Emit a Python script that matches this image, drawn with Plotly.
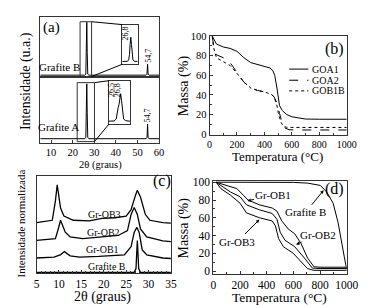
import plotly.graph_objects as go

W, H = 368, 305
FONT = "Liberation Serif"

# ---------------- (a) XRD of graphites ----------------
a_x = [5, 25.6, 26.1, 26.35, 26.55, 26.75, 27.0, 27.5, 54.0, 54.45, 54.7, 54.95, 55.4, 60]
a_grafiteB = [2.3, 2.3, 4, 40, 91, 40, 4, 2.3, 2.3, 4, 20.6, 4, 2.3, 2.3]
a_grafiteA = [5.9, 5.9, 8, 45, 89, 45, 8, 5.9, 5.9, 8, 27.8, 8, 5.9, 5.9]
a_ticks = [10, 20, 30, 40, 50, 60]

insB_x = [25.8, 26.4, 26.55, 26.65, 26.72, 26.8, 26.88, 26.95, 27.05, 27.2, 27.6]
insB_y = [7, 7.5, 11, 25, 50, 68, 50, 25, 11, 7.5, 7]
insA_x = [25.7, 26.2, 26.4, 26.5, 26.58, 26.66, 26.74, 26.82, 26.9, 27.0, 27.1, 27.3, 27.7]
insA_y = [7, 7.5, 12, 30, 38, 45, 60, 70, 55, 25, 12, 8, 7]

# ---------------- (b) TGA of GO ----------------
goa1_T = [20, 50, 100, 150, 200, 250, 300, 350, 400, 440, 460, 475, 490, 500, 510, 530, 560, 600, 650, 700, 800, 1000]
goa1_m = [100, 92, 89, 87.5, 84.5, 78, 73, 71, 69.5, 67.5, 65, 60, 48, 37, 29, 24, 20, 17.5, 16, 15.2, 15, 15]
goa2_T = [20, 30, 50, 100, 150, 200, 250, 300, 350, 400, 450, 470, 490, 510, 530, 550, 580, 620, 1000]
goa2_m = [100, 90, 81, 78, 73, 63, 53, 47, 44.5, 43, 40.5, 38, 32, 21, 11, 6, 4.3, 4, 4]
gob1b_T = [20, 30, 50, 100, 150, 200, 250, 300, 350, 400, 450, 470, 490, 500, 520, 540, 560, 600, 1000]
gob1b_m = [100, 88, 78, 74, 70, 62, 53, 47, 44.5, 43, 40.5, 38, 30, 22, 12, 7.5, 6.8, 6.6, 6.6]

# ---------------- (c) normalized XRD ----------------
c_ob3_x = [5, 8.5, 9.2, 9.6, 10.35, 11.1, 13.2, 16.8, 19.6, 22.5, 25.0, 26.1, 27.1, 27.5, 28.2, 29.3, 30.3, 33.2, 35]
c_ob3_y = [52.6, 55, 75, 91.6, 67.6, 59.3, 55, 54.3, 57, 57.6, 59.3, 66, 81, 86, 79, 60.9, 55, 52.6, 52]
c_ob2_x = [5, 9.2, 9.9, 10.35, 11.4, 12.5, 15.3, 18.9, 23.2, 25.3, 26.1, 26.8, 27.5, 28.2, 29.6, 33.2, 35]
c_ob2_y = [34.3, 36, 47, 55, 42.7, 37.7, 36, 37.7, 39.3, 44.3, 61, 68.3, 61, 46, 37.7, 33.6, 33]
c_ob1_x = [5, 8.9, 10.4, 11.2, 12.5, 14.6, 18.9, 24.6, 26.1, 26.8, 27.4, 27.9, 28.6, 29.6, 33.2, 35]
c_ob1_y = [16, 17, 19.5, 22.6, 18.3, 17, 17.6, 19.3, 27.6, 42.6, 47.6, 42.6, 24.3, 19.3, 16, 15.5]
c_grB_x = [5, 26.8, 27.2, 27.4, 27.5, 27.6, 27.8, 28.2, 35]
c_grB_y = [1, 1.2, 5, 25, 34, 25, 5, 1.2, 1]
c_ticks = [5, 10, 15, 20, 25, 30, 35]

# ---------------- (d) TGA of Gr-OB ----------------
d_grB_T = [20, 300, 600, 706, 760, 802, 850, 898, 935, 959, 983, 1000]
d_grB_m = [100, 100, 99.8, 99, 98, 96.4, 89, 76.4, 54.7, 33, 14.9, 2]
d_ob1_T = [20, 104, 176, 224, 260, 345, 441, 477, 513, 561, 610, 657, 706, 754, 800, 1000]
d_ob1_m = [100, 96.4, 92.8, 85.5, 80, 74.6, 71, 67.4, 56.5, 47.5, 42, 31.2, 14.9, 5, 4.5, 4.5]
d_ob2_T = [20, 56, 128, 200, 248, 345, 441, 477, 501, 537, 610, 682, 742, 800, 1000]
d_ob2_m = [100, 96.4, 89, 83.7, 74.6, 69, 64.9, 58.3, 43.8, 34.8, 27.5, 14.9, 3.5, 3, 3]
d_ob3_T = [20, 56, 128, 200, 248, 345, 441, 465, 489, 525, 598, 657, 706, 754, 1000]
d_ob3_m = [100, 92.8, 85.5, 76.4, 65.5, 60.1, 56.5, 51, 36.6, 27.5, 20.3, 11.2, 2.9, 1, 1]
tga_ticks = [0, 200, 400, 600, 800, 1000]
mass_ticks = [0, 20, 40, 60, 80, 100]


def PX(x):
    return x / W


def PY(y):
    return 1 - y / H


def dom_x(l, r):
    return [PX(l), PX(r)]


def dom_y(t, b):
    return [PY(b), PY(t)]


fig = go.Figure()


def add(x, y, xa, ya, dash="solid", name=None, width=1):
    fig.add_trace(go.Scatter(x=x, y=y, mode="lines", xaxis=xa, yaxis=ya,
                             line=dict(color="black", width=width, dash=dash),
                             name=name, showlegend=False, hoverinfo="skip"))


add(a_x, a_grafiteA, "x", "y")
add(a_x, a_grafiteB, "x2", "y2")
add(insB_x, insB_y, "x3", "y3")
add(insA_x, insA_y, "x4", "y4")
add(goa1_T, goa1_m, "x5", "y5", "solid", "GOA1")
add(goa2_T, goa2_m, "x5", "y5", "dash", "GOA2")
add(gob1b_T, gob1b_m, "x5", "y5", "dot", "GOB1B")
add(c_ob3_x, c_ob3_y, "x6", "y6", width=1.3)
add(c_ob2_x, c_ob2_y, "x6", "y6", width=1.3)
add(c_ob1_x, c_ob1_y, "x6", "y6", width=1.3)
add(c_grB_x, c_grB_y, "x6", "y6", width=1.3)
add(d_grB_T, d_grB_m, "x7", "y7")
add(d_ob1_T, d_ob1_m, "x7", "y7")
add(d_ob2_T, d_ob2_m, "x7", "y7")
add(d_ob3_T, d_ob3_m, "x7", "y7")

AX = dict(showline=True, linecolor="#333", linewidth=1, mirror=True, showgrid=False,
          zeroline=False, ticks="inside", ticklen=3, tickcolor="#333", ticklabelstandoff=0,
          tickfont=dict(family=FONT, size=11, color="black"))
NOAX = dict(showline=True, linecolor="#333", linewidth=1, mirror=True, showgrid=False,
            zeroline=False, ticks="", showticklabels=False)

# geometry (pixels)
A_L, A_R, A_T, A_M, A_B = 30.5, 154.3, 4, 65.7, 134
B_L, B_R, B_T, B_B = 207, 350, 23.3, 126
C_L, C_R, C_T, C_B = 26.7, 166.7, 168.3, 269.3
D_L, D_R, D_T, D_B = 211, 350, 173.3, 270

fig.update_layout(
    width=W, height=H, margin=dict(l=0, r=0, t=0, b=0),
    paper_bgcolor="white", plot_bgcolor="white", showlegend=False,
    font=dict(family=FONT, color="black"),
    xaxis=dict(AX, domain=dom_x(A_L, A_R), range=[5, 60], tickvals=a_ticks, anchor="y",
               tickfont=dict(family=FONT, size=10.5, color="black")),
    yaxis=dict(NOAX, domain=dom_y(A_M, A_B), range=[0, 100], anchor="x"),
    xaxis2=dict(NOAX, domain=dom_x(A_L, A_R), range=[5, 60], anchor="y2", matches="x"),
    yaxis2=dict(NOAX, domain=dom_y(A_T, A_M), range=[0, 100], anchor="x2"),
    xaxis3=dict(NOAX, domain=dom_x(116, 132), range=[25.8, 27.6], anchor="y3"),
    yaxis3=dict(NOAX, domain=dom_y(12, 53), range=[0, 100], anchor="x3"),
    xaxis4=dict(NOAX, domain=dom_x(102, 124), range=[25.7, 27.7], anchor="y4"),
    yaxis4=dict(NOAX, domain=dom_y(70, 115), range=[0, 100], anchor="x4"),
    xaxis5=dict(AX, domain=dom_x(B_L, B_R), range=[0, 1000], tickvals=tga_ticks, anchor="y5",
                tickfont=dict(family=FONT, size=10, color="black"),
                minor=dict(ticks="inside", ticklen=2, dtick=100, tickcolor="#333")),
    yaxis5=dict(AX, domain=dom_y(B_T, B_B), range=[-1, 100.7], tickvals=mass_ticks, anchor="x5",
                tickfont=dict(family=FONT, size=10.5, color="black"),
                minor=dict(ticks="inside", ticklen=2, dtick=10, tickcolor="#333")),
    xaxis6=dict(AX, domain=dom_x(C_L, C_R), range=[5, 35], tickvals=c_ticks, anchor="y6",
                tickfont=dict(family=FONT, size=11.5, color="black"),
                minor=dict(ticks="inside", ticklen=2, dtick=1, tickcolor="#333")),
    yaxis6=dict(NOAX, domain=dom_y(C_T, C_B), range=[0, 101], anchor="x6"),
    xaxis7=dict(AX, domain=dom_x(D_L, D_R), range=[0, 1000], tickvals=tga_ticks, anchor="y7",
                tickfont=dict(family=FONT, size=11.5, color="black"),
                minor=dict(ticks="inside", ticklen=2, dtick=100, tickcolor="#333")),
    yaxis7=dict(AX, domain=dom_y(D_T, D_B), range=[-3.3, 101.8], tickvals=mass_ticks, anchor="x7",
                tickfont=dict(family=FONT, size=11.5, color="black"),
                minor=dict(ticks="inside", ticklen=2, dtick=10, tickcolor="#333")),
)

shapes = []
GL = dict(color="#333", width=1)


def pline(x0, y0, x1, y1, dash="solid"):
    shapes.append(dict(type="line", xref="paper", yref="paper", x0=PX(x0), y0=PY(y0),
                       x1=PX(x1), y1=PY(y1), line=dict(color="black", width=1, dash=dash)))


def prect(x0, y0, x1, y1):
    shapes.append(dict(type="rect", xref="paper", yref="paper", x0=PX(x0), y0=PY(y0),
                       x1=PX(x1), y1=PY(y1), line=GL))


# zoom rectangles and connector lines in panel (a)
prect(72, 9, 84, 65.7)
pline(84, 9, 116, 12)
pline(84, 65.7, 116, 53)
prect(69, 72, 87, 133)
pline(87, 72, 102, 70)
pline(87, 133, 102, 115)

# manual legend for (b)
leg = [("GOA1", "solid", 58), ("GOA2", "dash", 69.5), ("GOB1B", "dot", 80.5)]
for name, dash, yy in leg:
    pline(290, yy, 310, yy, dash)
fig.update_layout(shapes=shapes)

ann = []


def txt(x, y, s, size, angle=0, xanchor="center", yanchor="middle"):
    ann.append(dict(x=PX(x), y=PY(y), xref="paper", yref="paper", text=s, showarrow=False,
                    textangle=angle, xanchor=xanchor, yanchor=yanchor,
                    font=dict(family=FONT, size=size, color="black")))


for name, dash, yy in leg:
    txt(312, yy, name, 10, xanchor="left")

# panel (a)
txt(42, 15, "(a)", 15)
txt(51, 56, "Grafite B", 11)
txt(49, 118, "Grafite A", 11)
txt(143, 44, "54,7", 8, -90)
txt(142.7, 106, "54,7", 8, -90)
txt(119, 21, "26,8", 8, -90)
txt(105, 80, "26,5", 8, -90)
txt(110.5, 80, "26,8", 8, -90)
txt(15, 70, "Intensidade (u.a.)", 14, -90)
txt(93, 157.5, "2θ (graus)", 10.5)

# panel (b)
txt(337, 37, "(b)", 16)
txt(278, 148, "Temperatura (°C)", 13)
txt(180, 75, "Massa (%)", 14, -90)

# panel (c)
txt(157, 174, "(c)", 16)
txt(97, 208, "Gr-OB3", 10)
txt(96, 227, "Gr-OB2", 10)
txt(95, 245, "Gr-OB1", 10)
txt(100, 262, "Grafite B", 10)
txt(10, 218, "Intensidade normalizada", 11, -90)
txt(95, 294, "2θ (graus)", 14)

# panel (d)
txt(337, 182, "(d)", 16)
txt(280, 294, "Temperatura (°C)", 13.5)
txt(180, 222, "Massa (%)", 14, -90)


def arrow(x, y, ax, ay, s):
    ann.append(dict(x=x, y=y, xref="x7", yref="y7", ax=ax, ay=ay, text=s, showarrow=True,
                    arrowhead=2, arrowsize=0.7, arrowwidth=1, arrowcolor="black", standoff=0,
                    font=dict(family=FONT, size=11, color="black")))


arrow(255, 79, 26, -6, "Gr-OB1")
arrow(827, 91, -18, 22, "Grafite B")
arrow(620, 30, 22, -10, "Gr-OB2")
arrow(345, 58, -22, 22, "Gr-OB3")

fig.update_layout(annotations=ann)
fig.write_html("out.html")
